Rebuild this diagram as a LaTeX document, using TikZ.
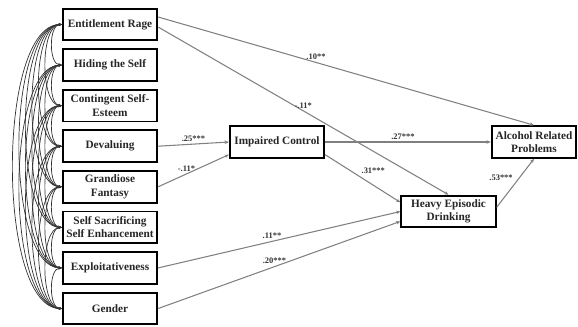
\documentclass[tikz,border=0pt]{standalone}
\usepackage{fontspec}
\setmainfont{Liberation Serif}
\usetikzlibrary{arrows.meta}
\tikzset{
  var/.style={draw, line width=1.3pt, minimum width=67pt, minimum height=22.5pt, inner sep=1pt, align=center, font=\fontsize{8}{9.5}\selectfont\bfseries, text=black!85},
  cov/.style={black!80, line width=0.5pt, {Stealth[length=2.2pt,width=2pt]}-{Stealth[length=2.2pt,width=2pt]}},
  eff/.style={gray, line width=0.75pt, -{Stealth[length=3pt,width=2.5pt]}},
  lbl/.style={font=\fontsize{6}{7}\selectfont\bfseries, text=black!80, inner sep=1.5pt}
}
\begin{document}
\begin{tikzpicture}[x=0.709pt, y=-0.709pt]
  \useasboundingbox (0,0) rectangle (578,326);
  % 1. Predictor boxes
  \foreach \t [count=\i] in {Entitlement Rage, Hiding the Self, {Contingent Self-\\Esteem}, Devaluing, {Grandiose\\Fantasy}, {Self Sacrificing\\Self Enhancement}, Exploitativeness, Gender}
    \node[var] (v\i) at (110, 24.5+40.57*\i-40.57) {\t};
  % 2. Outcome boxes
  \node[var] (ic) at (277,142) {Impaired Control};
  \node[var, minimum width=60pt] (arp) at (534,142) {Alcohol Related\\Problems};
  \node[var] (hed) at (448.5,211.5) {Heavy Episodic\\Drinking};
  % 3. Covariances between predictors
  \foreach \i in {1,...,7} {
    \pgfmathtruncatemacro\s{\i+1}
    \foreach \j in {\s,...,8} {
      \pgfmathsetmacro\c{(10+6.5*(\j-\i-1))/0.75}
      \draw[cov] (v\i.west) .. controls +(-\c,0) and +(-\c,0) .. (v\j.west);
    }
  }
  % 4. Paths
  \draw[eff] ([yshift=5.3pt]v1.east) -- node[lbl, pos=0.42, above] {.10**} (arp.north);
  \draw[eff] ([yshift=-1.8pt]v1.east) -- node[lbl, pos=0.5, above] {-.11*} (hed.north);
  \draw[eff] (v4.east) -- node[lbl, pos=0.5, above] {.25***} (ic.west);
  \draw[eff] (v5.east) -- node[lbl, pos=0.4, above] {-.11*} ([yshift=-9pt]ic.west);
  \draw[eff] (ic.east) -- node[lbl, pos=0.47, above] {.27***} (arp.west);
  \draw[eff] ([yshift=-9pt]ic.east) -- node[lbl, pos=0.45, above right] {.31***} ([yshift=6.5pt]hed.west);
  \draw[eff] (v7.east) -- node[lbl, pos=0.47, above] {.11**} (hed.west);
  \draw[eff] (v8.east) -- node[lbl, pos=0.48, above] {.20***} ([yshift=-7pt]hed.west);
  \draw[eff] ([yshift=3pt]hed.east) -- node[lbl, pos=0.5, above left] {.53***} (arp.south);
\end{tikzpicture}
\end{document}
